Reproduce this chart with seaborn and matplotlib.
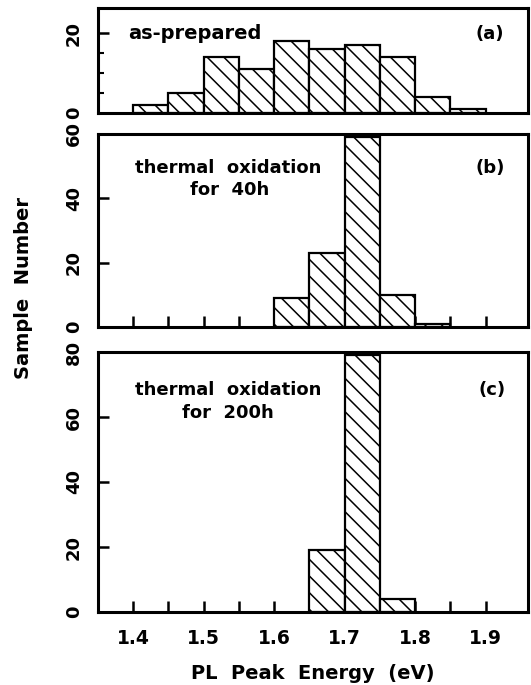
import matplotlib
matplotlib.use("Agg")
import matplotlib.pyplot as plt
import seaborn as sns
import numpy as np

# PL peak energy histogram bins (eV), 0.05 eV wide
bin_edges = [1.40, 1.45, 1.50, 1.55, 1.60, 1.65, 1.70, 1.75, 1.80, 1.85, 1.90]
bin_centers = [1.425, 1.475, 1.525, 1.575, 1.625, 1.675, 1.725, 1.775, 1.825, 1.875]

# sample counts per bin
counts_prepared = [2, 5, 14, 11, 18, 16, 17, 14, 4, 1]
counts_40h = [0, 0, 0, 0, 9, 23, 59, 10, 1, 0]
counts_200h = [0, 0, 0, 0, 0, 19, 79, 4, 0, 0]

x_ticks = [1.4, 1.5, 1.6, 1.7, 1.8, 1.9]
x_minor = [1.45, 1.55, 1.65, 1.75, 1.85]

sns.set_theme(style="ticks")
plt.rcParams["font.family"] = ["DejaVu Sans"]
plt.rcParams["font.weight"] = "bold"
plt.rcParams["text.color"] = "black"
plt.rcParams["axes.labelcolor"] = "black"
plt.rcParams["xtick.color"] = "black"
plt.rcParams["ytick.color"] = "black"
plt.rcParams["hatch.linewidth"] = 1.1
plt.rcParams["hatch.color"] = "black"

W, H = 531, 685
fig = plt.figure(figsize=(W / 100, H / 100), dpi=100)
fig.patch.set_facecolor("white")


def frame(top, bottom, left=98, right=528):
    return [left / W, 1 - bottom / H, (right - left) / W, (bottom - top) / H]


ax_a = fig.add_axes(frame(8, 113))
ax_b = fig.add_axes(frame(134, 327))
ax_c = fig.add_axes(frame(352, 612))

panels = [
    (ax_a, counts_prepared, 26.25, [0, 20], [5, 10, 15]),
    (ax_b, counts_40h, 60, [0, 20, 40, 60], []),
    (ax_c, counts_200h, 80, [0, 20, 40, 60, 80], []),
]

for i, (ax, counts, ytop, yt, ymin) in enumerate(panels):
    sns.histplot(x=bin_centers, weights=counts, bins=bin_edges, ax=ax,
                 stat="count", element="bars", fill=True, color="white",
                 edgecolor="black", linewidth=1.6, hatch="\\\\", alpha=1.0)
    for p in list(ax.patches):
        p.set_facecolor("white")
        if p.get_height() == 0:
            p.remove()
    ax.set_facecolor("white")
    ax.set_xlim(1.35, 1.96)
    ax.set_ylim(0, ytop)
    ax.set_xlabel("")
    ax.set_ylabel("")
    for s in ax.spines.values():
        s.set_visible(True)
        s.set_linewidth(2.2)
        s.set_color("black")
    ax.set_yticks(yt)
    ax.set_yticks(ymin, minor=True)
    ax.set_yticklabels([str(v) for v in yt], rotation=90, va="center",
                       fontsize=13, fontweight="bold", color="black")
    ax.tick_params(axis="y", which="major", direction="in", length=8,
                   width=1.8, pad=11, left=True, right=False, colors="black")
    ax.tick_params(axis="y", which="minor", direction="in", length=4,
                   width=1.5, left=True, right=False, colors="black")
    if i == 0:
        ax.set_xticks([])
        ax.set_xticks([], minor=True)
    else:
        ax.set_xticks(x_ticks)
        ax.set_xticks(x_minor, minor=True)
        ax.tick_params(axis="x", which="both", direction="in", length=8,
                       width=1.8, pad=12, bottom=True, top=False,
                       colors="black")
        if i == 2:
            ax.set_xticklabels([f"{v:.1f}" for v in x_ticks], fontsize=13.5,
                               fontweight="bold", color="black")
        else:
            ax.set_xticklabels([])

txt = dict(fontsize=13, fontweight="bold", color="black")
ax_a.text(0.07, 0.705, "as-prepared", transform=ax_a.transAxes,
          ha="left", va="baseline", fontsize=14, fontweight="bold",
          color="black")
ax_a.text(0.912, 0.705, "(a)", transform=ax_a.transAxes,
          ha="center", va="baseline", **txt)

ax_b.text(0.302, 0.798, "thermal  oxidation", transform=ax_b.transAxes,
          ha="center", va="baseline", **txt)
ax_b.text(0.307, 0.684, "for  40h", transform=ax_b.transAxes,
          ha="center", va="baseline", **txt)
ax_b.text(0.912, 0.798, "(b)", transform=ax_b.transAxes,
          ha="center", va="baseline", **txt)

ax_c.text(0.302, 0.835, "thermal  oxidation", transform=ax_c.transAxes,
          ha="center", va="baseline", **txt)
ax_c.text(0.302, 0.746, "for  200h", transform=ax_c.transAxes,
          ha="center", va="baseline", **txt)
ax_c.text(0.916, 0.835, "(c)", transform=ax_c.transAxes,
          ha="center", va="baseline", **txt)

ax_c.set_xlabel("PL  Peak  Energy  (eV)", fontsize=14, fontweight="bold",
                labelpad=12, color="black")
fig.text(24 / W, 1 - 288 / H, "Sample  Number", rotation=90, ha="center",
         va="center", fontsize=14, fontweight="bold", color="black")

fig.savefig("out.png", dpi=100, facecolor="white")
